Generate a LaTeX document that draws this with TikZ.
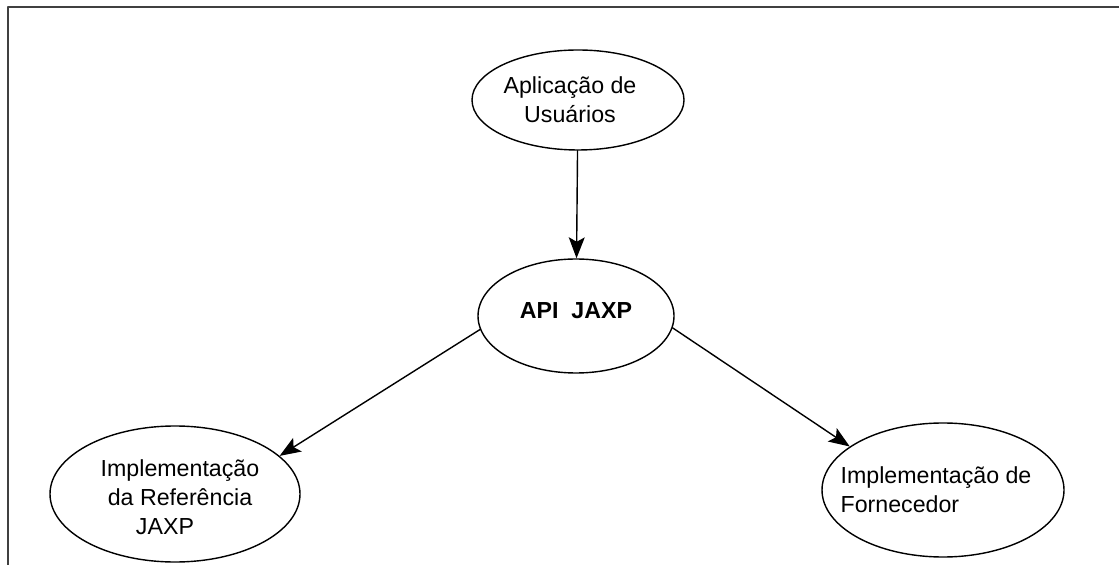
\documentclass[tikz,border=0pt]{standalone}
\usepackage{fontspec}
\setmainfont{Liberation Sans}
\usetikzlibrary{arrows.meta,shapes.geometric}

\begin{document}
\begin{tikzpicture}[line cap=round,line join=round,
   elip/.style={ellipse,draw,line width=0.8pt,inner sep=0pt},
   seta/.style={-{Stealth[length=4.2mm,width=3.2mm,inset=0.9mm]},line width=0.8pt},
   txt/.style={font=\fontsize{13.2}{16.5}\selectfont}]
\useasboundingbox (0,0) rectangle (22.38,-11.3);
% frame, open at the right and at the bottom
\draw[line width=1.5pt,black!75,line cap=butt] (0.16,-11.3) -- (0.16,-0.14) -- (22.38,-0.14);
% ellipses
\node[elip,minimum width=4.24cm,minimum height=2cm]    (usr)  at (11.56,-2)    {};
\node[elip,minimum width=3.92cm,minimum height=2.28cm] (api)  at (11.52,-6.32) {};
\node[elip,minimum width=5cm,minimum height=2.72cm]    (ref)  at (3.5,-9.88)   {};
\node[elip,minimum width=4.84cm,minimum height=2.68cm] (forn) at (18.86,-9.8)  {};
% texts
\node[txt,align=center,xshift=-0.16cm] (usrtxt) at (usr) {Aplicação de\\Usuários};
\node[txt,font=\fontsize{13.2}{16.5}\selectfont\bfseries,yshift=0.1cm] (apitxt) at (api) {API\ \ JAXP};
\node[txt,align=center,xshift=0.1cm,yshift=-0.06cm] (reftxt) at (ref)
  {Implementação\\da Referência\hspace*{0.6cm}\\JAXP\hspace*{0.6cm}};
\node[txt,align=left,xshift=-0.14cm] (forntxt) at (forn) {Implementação de\\Fornecedor};
% arrows
\draw[seta] (usr) -- (api);
\draw[seta] (api.188) -- (ref.20);
\draw[seta] (api.353) -- (forn.155);
\end{tikzpicture}
\end{document}
